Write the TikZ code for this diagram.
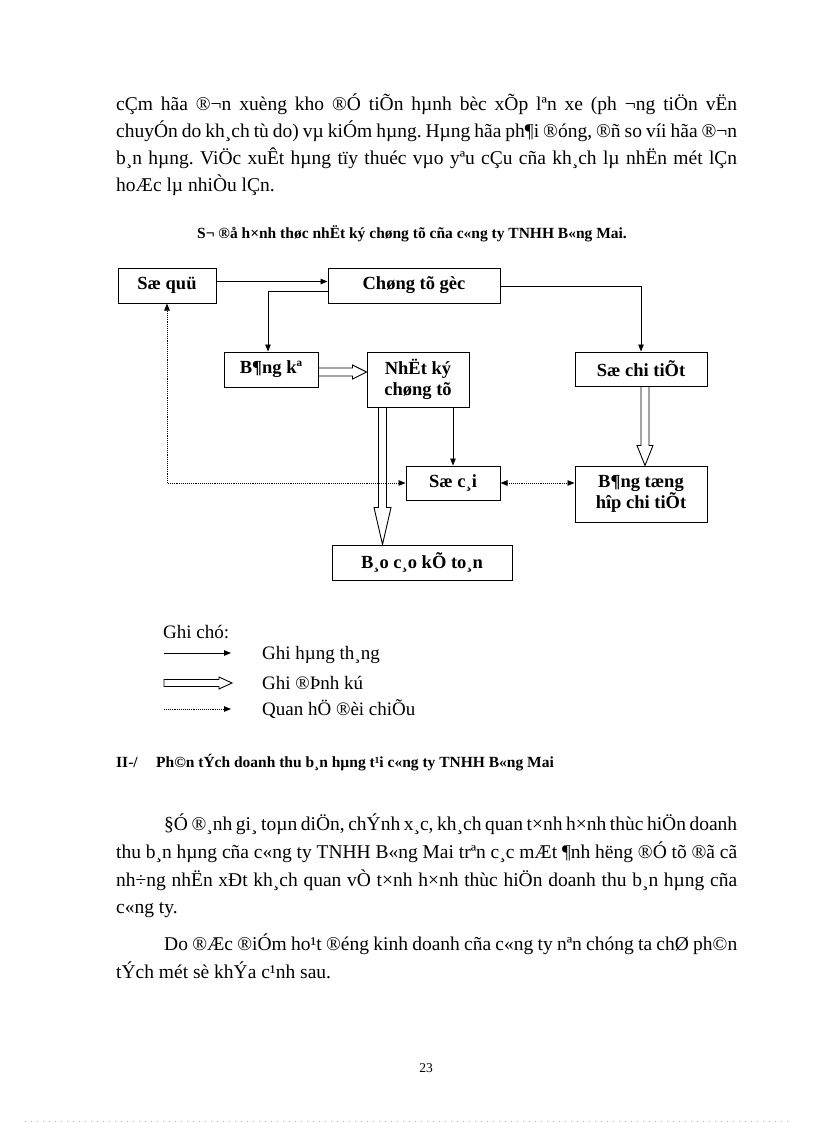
\documentclass[tikz,border=0pt]{standalone}
\usepackage{fontspec}
\setmainfont{Liberation Serif}
\usetikzlibrary{arrows.meta,calc}
\frenchspacing

\begin{document}
\begin{tikzpicture}[x=1pt,y=-1pt,>={Triangle[length=7pt,width=5.5pt]},
box/.style={draw,line width=1pt,inner sep=0pt,align=center,font=\bfseries\fontsize{18.5}{21}\selectfont},
txt/.style={inner sep=0pt,anchor=base west,font=\fontsize{19.5}{22}\selectfont},
link/.style={line width=0.9pt,->},
dots/.style={line width=0.9pt,densely dotted},
hollow/.style={line width=0.9pt,line join=miter}]
\def\tw{621pt}
\def\tin{573pt}
\useasboundingbox (0,0) rectangle (816,1123);
%
\node[txt] (p1) at (116,111) {\makebox[\tw][s]{cÇm hãa ®¬n xuèng kho ®Ó tiÕn hµnh bèc xÕp lªn xe (ph ¬ng tiÖn vËn}};
\node[txt] (p2) at (116,138) {\makebox[\tw][s]{chuyÓn do kh¸ch tù do) vµ kiÓm hµng. Hµng hãa ph¶i ®óng, ®ñ so víi hãa ®¬n}};
\node[txt] (p3) at (116,165) {\makebox[\tw][s]{b¸n hµng. ViÖc xuÊt hµng tïy thuéc vµo yªu cÇu cña kh¸ch lµ nhËn mét lÇn}};
\node[txt] (p4) at (116,192) {hoÆc lµ nhiÒu lÇn.};
\node[inner sep=0pt,anchor=base,font=\bfseries\fontsize{15.5}{18}\selectfont] (cap) at (412,239) {S¬ ®å h×nh thøc nhËt ký chøng tõ cña c«ng ty TNHH B«ng Mai.};
%
\node[box,minimum width=98pt,minimum height=35pt] (sq) at (167,285.5) {Sæ quü};
\node[box,minimum width=172pt,minimum height=35pt] (ctg) at (414,285.5) {Chøng tõ gèc};
\node[box,minimum width=94pt,minimum height=35pt] (bk) at (271,369.5) {B¶ng kª};
\node[box,minimum width=102pt,minimum height=55pt] (nk) at (418,379.5) {NhËt ký\\chøng tõ};
\node[box,minimum width=132pt,minimum height=34pt] (sct) at (641,369) {Sæ chi tiÕt};
\node[box,minimum width=94pt,minimum height=34pt] (sc) at (453,483) {Sæ c¸i};
\node[box,minimum width=132pt,minimum height=56pt] (bth) at (641,494) {B¶ng tæng\\hîp chi tiÕt};
\node[box,minimum width=180pt,minimum height=35pt] (bc) at (422,562.5) {B¸o c¸o kÕ to¸n};
%
\draw[link] ([yshift=-14pt]sq.north east) -- ([yshift=-14pt]ctg.north west);
\draw[link] ([yshift=-24pt]ctg.north west) -| ([xshift=-3pt]bk.north);
\draw[link] ([yshift=-1pt]ctg.east) -| (sct.north);
\draw[link] (nk.south -| sc.north) -- (sc.north);
\draw[dots,<->] (sc.west) -| (sq.south);
\draw[dots,<->] (sc.east) -- (sc.east -| bth.west);
%
\path
([yshift=-2.5pt]bk.east) coordinate (bk1)
(bk1 -| nk.west) coordinate (nk1)
([xshift=16pt]nk.south west) coordinate (nk2)
(nk2 |- bc.north) coordinate (bc1)
([xshift=4pt]sct.south) coordinate (sct1)
(sct1 |- bth.north) coordinate (bth1)
(164,653) coordinate (g1a)
(231,653) coordinate (g1b)
(164,683) coordinate (g2a)
(232,683) coordinate (g2b)
(164,709) coordinate (g3a)
(231,709) coordinate (g3b)
;
\foreach \a/\b/\hl/\hw/\sw in {bk1/nk1/14pt/7pt/4pt,nk2/bc1/37pt/8.5pt/4pt,sct1/bth1/20pt/8pt/4pt,g2a/g2b/13pt/6pt/3.5pt}{
\path ($(\b)!\hl!(\a)$) coordinate (hb);
\draw[hollow] ($(\a)!\sw!90:(\b)$) -- ($(hb)!\sw!-90:(\a)$) -- ($(hb)!\hw!-90:(\a)$) -- (\b) -- ($(hb)!\hw!90:(\a)$) -- ($(hb)!\sw!90:(\a)$) -- ($(\a)!\sw!-90:(\b)$) -- cycle;
}
%
\node[txt,font=\fontsize{19}{21}\selectfont] (gc) at (163,638) {Ghi chó:};
\draw[link] (g1a) -- (g1b);
\draw[dots,->] (g3a) -- (g3b);
\node[txt,font=\fontsize{19}{21}\selectfont] (g1) at (262,659) {Ghi hµng th¸ng};
\node[txt,font=\fontsize{19}{21}\selectfont] (g2) at (262,689) {Ghi ®Þnh kú};
\node[txt,font=\fontsize{19}{21}\selectfont] (g3) at (262,715) {Quan hÖ ®èi chiÕu};
%
\node[txt,font=\bfseries\fontsize{15.5}{18}\selectfont] (h0) at (116,767) {II-/};
\node[txt,font=\bfseries\fontsize{15.5}{18}\selectfont] (h1) at (156,767) {Ph©n tÝch doanh thu b¸n hµng t¹i c«ng ty TNHH B«ng Mai};
\node[txt] (q1) at (164,830) {\makebox[\tin][s]{§Ó ®¸nh gi¸ toµn diÖn, chÝnh x¸c, kh¸ch quan t×nh h×nh thùc hiÖn doanh}};
\node[txt] (q2) at (116,858) {\makebox[\tw][s]{thu b¸n hµng cña c«ng ty TNHH B«ng Mai trªn c¸c mÆt ¶nh hëng ®Ó tõ ®ã cã}};
\node[txt] (q3) at (116,886) {\makebox[\tw][s]{nh÷ng nhËn xÐt kh¸ch quan vÒ t×nh h×nh thùc hiÖn doanh thu b¸n hµng cña}};
\node[txt] (q4) at (116,913) {c«ng ty.};
\node[txt] (r1) at (164,950) {\makebox[\tin][s]{Do ®Æc ®iÓm ho¹t ®éng kinh doanh cña c«ng ty nªn chóng ta chØ ph©n}};
\node[txt] (r2) at (116,978) {tÝch mét sè khÝa c¹nh sau.};
\node[inner sep=0pt,anchor=base,font=\fontsize{13.5}{16}\selectfont] (pg) at (426,1072) {23};
%
\draw[gray!60,line width=0.8pt,dash pattern=on 0.8pt off 5.2pt] (25,1121) -- (792,1121);
\end{tikzpicture}
\end{document}
